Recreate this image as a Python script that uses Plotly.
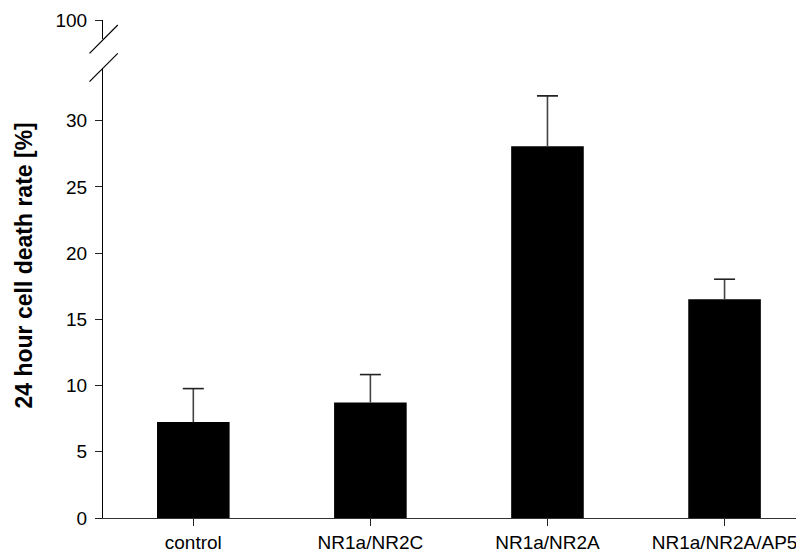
import plotly.graph_objects as go

categories = ["control", "NR1a/NR2C", "NR1a/NR2A", "NR1a/NR2A/AP5"]
means = [7.25, 8.72, 28.07, 16.52]
errors = [2.52, 2.11, 3.80, 1.51]
y_ticks_lower = [0, 5, 10, 15, 20, 25, 30]
y_ticks_upper = [100]

OFF = 8  # page body margin
W, H = 804 - OFF, 556 - OFF
# page-pixel geometry of the plot area
L_PX, R_PX, T_PX, B_PX = 102.5, 803, 20, 518
ml, mr, mt = L_PX - OFF, W - (R_PX - OFF), T_PX - OFF
mb = H - (B_PX - OFF)
ph = H - mt - mb
pw = W - ml - mr

def py(px):
    return (B_PX - px) / ph

def pxx(px):
    return (px - L_PX) / pw

xs = list(range(len(categories)))
tops = [m + e for m, e in zip(means, errors)]

fig = go.Figure()
fig.add_trace(go.Bar(
    x=xs, y=means,
    width=0.41,
    marker=dict(color="black", line=dict(width=0)),
    error_y=dict(type="data", array=errors, arrayminus=[0] * len(errors),
                 symmetric=False, color="#444444", thickness=1.6, width=0),
    showlegend=False, hoverinfo="skip",
))
# error-bar caps
fig.add_trace(go.Scatter(
    x=xs, y=tops, mode="markers",
    marker=dict(symbol="line-ew-open", size=15, color="#222222",
                line=dict(width=1.6, color="#222222")),
    showlegend=False, hoverinfo="skip",
))
fig.add_trace(go.Scatter(x=[0], y=[99], yaxis="y2", mode="markers",
                         marker=dict(opacity=0), showlegend=False, hoverinfo="skip"))

tickfont = dict(family="Liberation Sans, Arial, sans-serif", size=19, color="black")

fig.update_layout(
    width=W, height=H,
    margin=dict(l=ml, r=mr, t=mt, b=mb, autoexpand=False),
    plot_bgcolor="white", paper_bgcolor="white",
    xaxis=dict(range=[-0.51, 3.443], tickmode="array",
               tickvals=xs, ticktext=categories,
               showline=True, linecolor="#333333", linewidth=1.2,
               ticks="outside", ticklen=7, tickcolor="#222222", tickwidth=1.2,
               showgrid=False, zeroline=False, tickfont=tickfont,
               anchor="y"),
    yaxis=dict(range=[0, 34.0], domain=[0, py(67.7)],
               tickmode="array", tickvals=y_ticks_lower,
               showline=True, linecolor="black", linewidth=1.2,
               ticks="outside", ticklen=7, tickcolor="#222222", tickwidth=1.2,
               showgrid=False, zeroline=False, tickfont=tickfont,
               ticklabelstandoff=4, anchor="x"),
    yaxis2=dict(range=[98.6, 100.0], domain=[py(39.3), 1.0],
                tickmode="array", tickvals=y_ticks_upper,
                showline=True, linecolor="black", linewidth=1.2,
                ticks="outside", ticklen=7, tickcolor="#222222", tickwidth=1.2,
                showgrid=False, zeroline=False, tickfont=tickfont,
                ticklabelstandoff=4, anchor="x"),
    font=dict(family="Liberation Sans, Arial, sans-serif", color="black"),
)

# axis break marks
for (x0, y0, x1, y1) in [(89, 53.3, 117.3, 25.0), (89, 81.7, 117.3, 53.3)]:
    fig.add_shape(type="line", xref="paper", yref="paper",
                  x0=pxx(x0), y0=py(y0), x1=pxx(x1), y1=py(y1),
                  line=dict(color="black", width=1.2))

fig.add_annotation(text="<b>24 hour cell death rate [%]</b>", xref="paper", yref="paper",
                   x=pxx(22.5), y=py(265.5), textangle=-90, showarrow=False,
                   font=dict(size=23, family="Liberation Sans, Arial, sans-serif", color="black"),
                   xanchor="center", yanchor="middle")

fig.write_html("out.html")
